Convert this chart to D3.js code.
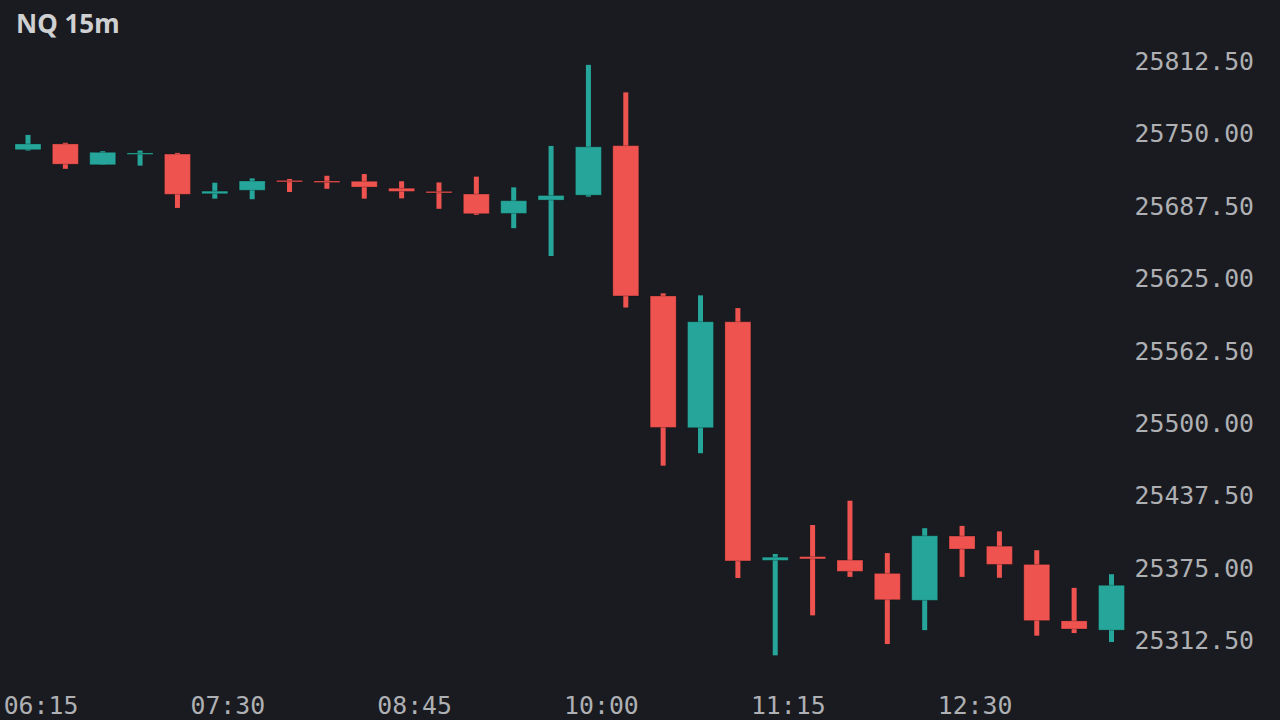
<!DOCTYPE html>
<html>
<head>
<meta charset="utf-8">
<script src="https://cdn.jsdelivr.net/npm/d3@7"></script>
<style>
  html, body { margin: 0; padding: 0; background: #1a1b20; }
  svg { display: block; }
</style>
</head>
<body>
<div class="chart"></div>
<script>
// 15 minute candles, NQ
const times = ["06:15","06:30","06:45","07:00","07:15","07:30","07:45","08:00","08:15","08:30",
               "08:45","09:00","09:15","09:30","09:45","10:00","10:15","10:30","10:45","11:00",
               "11:15","11:30","11:45","12:00","12:15","12:30","12:45","13:00","13:15","13:30"];

const open  = [25735.75, 25740.75, 25722.75, 25731.75, 25732.00, 25697.75, 25700.75, 25709.25, 25708.75, 25708.50,
               25702.50, 25699.75, 25697.50, 25680.75, 25692.25, 25696.50, 25739.25, 25609.50, 25495.75, 25587.25,
               25381.25, 25384.50, 25381.50, 25370.00, 25346.75, 25402.25, 25393.50, 25377.75, 25329.00, 25321.00];
const high  = [25748.50, 25741.75, 25734.50, 25735.00, 25733.00, 25707.25, 25711.00, 25710.50, 25713.25, 25714.75,
               25708.50, 25707.50, 25712.50, 25703.25, 25739.00, 25809.00, 25785.25, 25611.75, 25610.00, 25599.00,
               25386.75, 25411.75, 25432.75, 25387.50, 25409.00, 25411.00, 25406.25, 25390.00, 25357.50, 25369.25];
const low   = [25735.00, 25719.25, 25722.75, 25722.00, 25685.50, 25693.50, 25693.00, 25699.25, 25702.00, 25693.50,
               25693.75, 25684.75, 25679.50, 25668.00, 25644.00, 25695.25, 25599.50, 25463.00, 25473.75, 25366.00,
               25299.25, 25333.75, 25367.00, 25309.00, 25321.00, 25367.00, 25366.25, 25316.25, 25318.50, 25310.75];
const close = [25740.75, 25723.25, 25733.50, 25733.00, 25697.25, 25700.00, 25708.75, 25708.00, 25708.00, 25703.50,
               25699.75, 25698.50, 25680.50, 25691.75, 25696.25, 25738.25, 25609.50, 25496.00, 25587.25, 25380.75,
               25384.00, 25382.50, 25371.75, 25347.25, 25402.50, 25391.00, 25377.75, 25329.25, 25322.00, 25359.75];

const priceTicks = [25312.5, 25375, 25437.5, 25500, 25562.5, 25625, 25687.5, 25750, 25812.5];
const timeTicks = ["06:15", "07:30", "08:45", "10:00", "11:15", "12:30"];

const W = 1280, H = 720;
const up = "#26a69a", down = "#ef5350";

const svg = d3.select(".chart").append("svg")
  .attr("width", W)
  .attr("height", H);

svg.append("rect").attr("width", W).attr("height", H).attr("fill", "#1a1b20");

const x = d3.scalePoint().domain(times).range([28, 1111.5]);
const y = d3.scaleLinear().domain([25312.5, 25812.5]).range([640, 60.8]);

const data = times.map(function(t, i) {
  return { t: t, o: open[i], h: high[i], l: low[i], c: close[i] };
});

// price axis
const yAxis = svg.append("g")
  .attr("transform", "translate(1254,0)")
  .call(d3.axisRight(y).tickValues(priceTicks).tickFormat(d3.format(".2f")).tickSize(0).tickPadding(0));
yAxis.select(".domain").remove();
yAxis.selectAll("text")
  .attr("text-anchor", "end")
  .attr("x", 0)
  .attr("dy", "0.35em")
  .attr("fill", "#aeb0b4")
  .style("font-family", "'DejaVu Sans Mono', monospace")
  .style("font-size", "24.8px");

// time axis
const xAxis = svg.append("g")
  .attr("transform", "translate(0,687)")
  .call(d3.axisBottom(x).tickValues(timeTicks).tickSize(0).tickPadding(9));
xAxis.select(".domain").remove();
xAxis.selectAll("text")
  .attr("x", 12.5)
  .attr("fill", "#aeb0b4")
  .style("font-family", "'DejaVu Sans Mono', monospace")
  .style("font-size", "24.8px");

// candles
const candle = svg.append("g").selectAll("g")
  .data(data)
  .join("g");

candle.append("rect")
  .attr("x", d => x(d.t) - 2.5)
  .attr("width", 5)
  .attr("y", d => y(d.h))
  .attr("height", d => Math.max(1, y(d.l) - y(d.h)))
  .attr("fill", d => d.c >= d.o ? up : down);

candle.append("rect")
  .attr("x", d => x(d.t) - 13)
  .attr("width", 26)
  .attr("y", d => y(Math.max(d.o, d.c)))
  .attr("height", d => Math.max(1.5, Math.abs(y(d.o) - y(d.c))))
  .attr("fill", d => d.c >= d.o ? up : down)
  .attr("stroke", "rgba(0,0,0,0.25)")
  .attr("stroke-width", 1);

// title
svg.append("text")
  .attr("x", 16)
  .attr("y", 33)
  .attr("fill", "#cfd0d2")
  .style("font-family", "'Noto Sans', 'Open Sans', sans-serif")
  .style("font-weight", "bold")
  .style("font-size", "26px")
  .text("NQ 15m");
</script>
</body>
</html>
